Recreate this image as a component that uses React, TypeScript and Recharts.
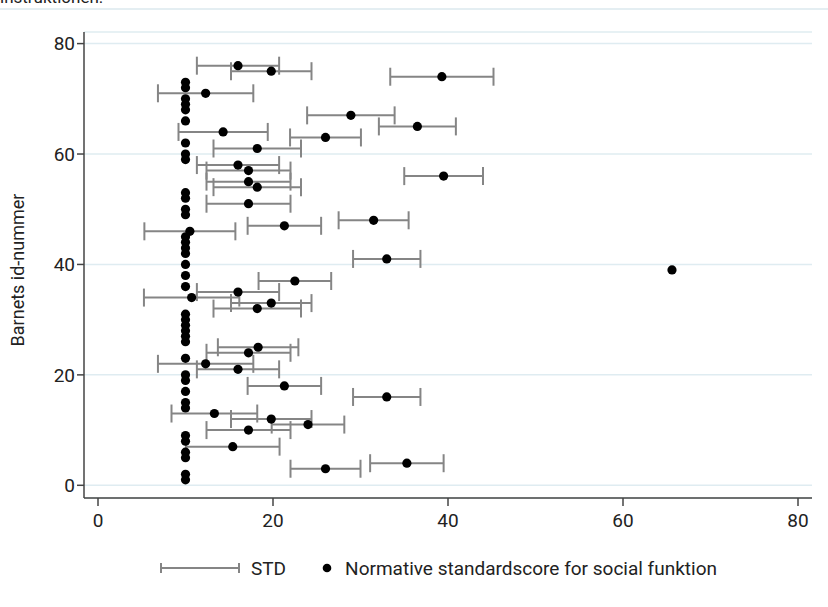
import { ScatterChart, Scatter, XAxis, YAxis, CartesianGrid, ErrorBar, Legend } from "recharts"

// child id numbers (y axis)
const ids = [
  1, 2, 3, 4, 5, 6, 7, 8, 9, 10, 11, 12, 13, 14, 15, 16, 17, 18, 19, 20,
  21, 22, 23, 24, 25, 26, 27, 28, 29, 30, 31, 32, 33, 34, 35, 36, 37, 38, 39, 40,
  41, 42, 43, 44, 45, 46, 47, 48, 49, 50, 51, 52, 53, 54, 55, 56, 57, 58, 59, 60,
  61, 62, 63, 64, 65, 66, 67, 68, 69, 70, 71, 72, 73, 74, 75, 76,
]

// normative standard score for social function
const scores = [
  10, 10, 26.0, 35.3, 10, 10, 15.4, 10, 10, 17.2,
  24.0, 19.8, 13.3, 10, 10, 33.0, 10, 21.3, 10, 10,
  16.0, 12.3, 10, 17.2, 18.3, 10, 10, 10, 10, 10,
  10, 18.2, 19.8, 10.7, 16.0, 10, 22.5, 10, 65.6, 10,
  33.0, 10, 10, 10, 10, 10.5, 21.3, 31.5, 10, 10,
  17.2, 10, 10, 18.2, 17.2, 39.5, 17.2, 16.0, 10, 10,
  18.2, 10, 26.0, 14.3, 36.5, 10, 28.9, 10, 10, 10,
  12.3, 10, 10, 39.3, 19.8, 16.0,
]

// STD (null = no bar)
const stds = [
  null, null, 4.0, 4.2, null, null, 5.35, null, null, 4.8,
  4.15, 4.6, 4.9, null, null, 3.85, null, 4.2, null, null,
  4.7, 5.45, null, 4.8, 4.6, null, null, null, null, null,
  null, 5.0, 4.6, 5.45, 4.7, null, 4.15, null, null, null,
  3.85, null, null, null, null, 5.2, 4.2, 4.0, null, null,
  4.8, null, null, 5.0, 4.8, 4.5, 4.8, 4.7, null, null,
  5.0, null, 4.05, 5.1, 4.4, null, 5.0, null, null, null,
  5.45, null, null, 5.9, 4.6, 4.7,
]

const xTicks = [0, 20, 40, 60, 80]
const yTicks = [0, 20, 40, 60, 80]

const data = ids.map((id, i) => ({ id, score: scores[i], sd: stds[i] }))

const FONT = "Roboto, 'Liberation Sans', sans-serif"
const BAR = "#858585"
const AXIS = "#444"

function Dot(props: any) {
  const { cx, cy } = props
  if (cx == null || cy == null) return null
  return <circle cx={cx} cy={cy} r={4.6} fill="#000" />
}

function YTitle(props: any) {
  const vb = props.viewBox || {}
  const cy = vb.y + vb.height / 2 + 5
  return (
    <text x={24} y={cy} transform={`rotate(-90, 24, ${cy})`} textAnchor="middle"
      fill="#222" fontSize={18} fontFamily={FONT}>
      Barnets id-nummer
    </text>
  )
}

function LegendBox() {
  return (
    <div style={{ display: "flex", alignItems: "center", paddingLeft: 125, height: 40, fontFamily: FONT, fontSize: 19, color: "#222" }}>
      <svg width={82} height={14}>
        <line x1={2} y1={7} x2={80} y2={7} stroke={BAR} strokeWidth={2} />
        <line x1={2} y1={2} x2={2} y2={12} stroke={BAR} strokeWidth={2} />
        <line x1={80} y1={2} x2={80} y2={12} stroke={BAR} strokeWidth={2} />
      </svg>
      <span style={{ marginLeft: 10 }}>STD</span>
      <svg width={12} height={12} style={{ marginLeft: 35 }}>
        <circle cx={6} cy={6} r={4.3} fill="#000" />
      </svg>
      <span style={{ marginLeft: 12 }}>Normative standardscore for social funktion</span>
    </div>
  )
}

export default function App() {
  return (
    <div style={{ position: "absolute", left: 0, top: 0, width: 828, height: 607, background: "#fff", overflow: "hidden" }}>
      <div style={{ position: "absolute", left: 0, top: -13, fontFamily: FONT, fontSize: 17, color: "#222" }}>
        instruktionen.
      </div>
      <div style={{ position: "absolute", left: 0, top: 8, width: 828, height: 1.5, background: "#e4eef2" }} />
      <ScatterChart width={828} height={607} margin={{ top: 32, right: 16, bottom: 19, left: 34 }}>
        <CartesianGrid horizontal vertical={false} stroke="#dfecf1" strokeWidth={1.5} />
        <XAxis type="number" dataKey="score" domain={[-1.6, 81.6]} ticks={xTicks} allowDataOverflow
          height={50} tickSize={8} tickMargin={8} stroke={AXIS} strokeWidth={1.5}
          tick={{ fill: "#222", fontSize: 19, fontFamily: FONT }} />
        <YAxis type="number" dataKey="id" domain={[-2.3, 82.1]} ticks={yTicks} allowDataOverflow
          width={50} tickSize={7} tickMargin={2} stroke={AXIS} strokeWidth={1.5}
          tick={{ fill: "#222", fontSize: 19, fontFamily: FONT }}
          label={<YTitle />} />
        <Legend verticalAlign="bottom" content={() => <LegendBox />} />
        <Scatter data={data} shape={<Dot />} isAnimationActive={false}>
          <ErrorBar dataKey="sd" direction="x" width={9} strokeWidth={2} stroke={BAR} />
        </Scatter>
      </ScatterChart>
    </div>
  )
}
